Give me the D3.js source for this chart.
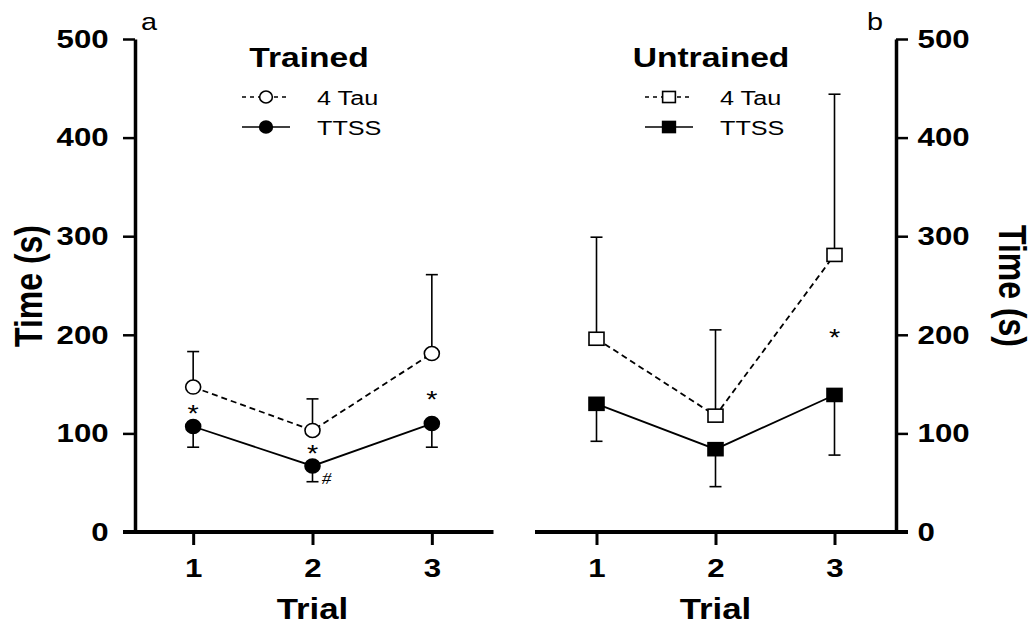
<!DOCTYPE html>
<html>
<head>
<meta charset="utf-8">
<script src="https://cdn.jsdelivr.net/npm/d3@7"></script>
<style>
  body { margin: 0; background: #fff; }
  svg { display: block; font-family: "Liberation Sans", Arial, sans-serif; }
</style>
</head>
<body>
<div class="container"></div>
<script>
// data (time in seconds)
const trials = [1, 2, 3];
const yTicks = [0, 100, 200, 300, 400, 500];

const trainedTau = [147, 103, 181];
const trainedTauSD = [36, 32, 80];      // upper bars
const trainedTTSS = [107, 67, 110];
const trainedTTSSSD = [21, 16, 24];     // lower bars

const untrainedTau = [196, 118, 281];
const untrainedTauSD = [103, 87, 163];
const untrainedTTSS = [130, 84, 139];
const untrainedTTSSSD = [38, 38, 61];

const trainedStars = [[1, 126, "*"], [2, 85, "*"], [3, 140, "*"]];
const trainedHash = [[2, 55, "#"]];
const untrainedStars = [[3, 203, "*"]];

const width = 1033, height = 626;
const SX = 1.2; // source figure is stretched horizontally

const svg = d3.select(".container").append("svg")
  .attr("width", width).attr("height", height)
  .attr("viewBox", [0, 0, width, height]);

const y = d3.scaleLinear().domain([0, 500]).range([532, 39]);

function txt(g, x, yy, s, size, weight, anchor) {
  return g.append("text")
    .attr("transform", `translate(${x},${yy}) scale(${SX},1)`)
    .attr("text-anchor", anchor || "start")
    .attr("font-size", size)
    .attr("font-weight", weight || "normal")
    .text(s);
}

function panel(opt) {
  const g = svg.append("g");
  const x = d3.scaleLinear().domain([0.5, 3.5]).range(opt.xRange);
  const tickLen = 12;

  // y axis
  const yAx = (opt.side === "left" ? d3.axisLeft(y) : d3.axisRight(y))
    .tickValues(yTicks).tickSize(tickLen).tickSizeOuter(0)
    .tickPadding(opt.side === "left" ? 10 : 6);
  const ya = g.append("g").attr("transform", `translate(${opt.yAxisX},0)`).call(yAx);
  ya.select(".domain").attr("stroke-width", 3.5);
  ya.selectAll(".tick line").attr("stroke-width", 2.5);
  ya.selectAll(".tick text")
    .attr("font-size", 26).attr("font-weight", "bold").attr("fill", "#000")
    .attr("font-family", "Liberation Sans, Arial, sans-serif")
    .attr("transform", `scale(${SX},1)`);

  // x axis
  const xAx = d3.axisBottom(x).tickValues(trials).tickSize(13).tickSizeOuter(0)
    .tickPadding(14).tickFormat(d3.format("d"));
  const xa = g.append("g").attr("transform", `translate(0,${y(0)})`).call(xAx);
  xa.select(".domain").remove();
  xa.selectAll(".tick line").attr("stroke-width", 3);
  xa.selectAll(".tick text")
    .attr("font-size", 26).attr("font-weight", "bold").attr("fill", "#000")
    .attr("font-family", "Liberation Sans, Arial, sans-serif")
    .attr("transform", `scale(${SX},1)`);
  const x0 = opt.side === "left" ? opt.yAxisX - tickLen : opt.xRange[0] - 2;
  const x1 = opt.side === "left" ? opt.xRange[1] + 2 : opt.yAxisX + tickLen;
  g.append("line").attr("x1", x0).attr("x2", x1)
    .attr("y1", y(0)).attr("y2", y(0))
    .attr("stroke", "#000").attr("stroke-width", 4);

  // axis titles
  const mid = (opt.xRange[0] + opt.xRange[1]) / 2;
  txt(g, mid, 619, "Trial", 29, "bold", "middle");
  g.append("text")
    .attr("transform", opt.side === "left"
      ? `translate(42,286) scale(${SX},1) rotate(-90)`
      : `translate(999,286) scale(${SX},1) rotate(90)`)
    .attr("text-anchor", "middle").attr("font-size", 32).attr("font-weight", "bold")
    .text("Time (s)");
  txt(g, opt.letterX, 30, opt.letter, 24, "normal", "start");

  // error bars
  const cap = 6;
  function bars(vals, sd, dir) {
    const eg = g.append("g").attr("stroke", "#000").attr("stroke-width", 1.6);
    trials.forEach((t, i) => {
      const end = vals[i] + dir * sd[i];
      eg.append("line").attr("x1", x(t)).attr("x2", x(t))
        .attr("y1", y(vals[i])).attr("y2", y(end));
      eg.append("line").attr("x1", x(t) - cap).attr("x2", x(t) + cap)
        .attr("y1", y(end)).attr("y2", y(end));
    });
  }
  bars(opt.tau, opt.tauSD, 1);
  bars(opt.ttss, opt.ttssSD, -1);

  // lines
  const line = d3.line().x((d, i) => x(trials[i])).y(d => y(d));
  g.append("path").datum(opt.tau).attr("d", line)
    .attr("fill", "none").attr("stroke", "#000").attr("stroke-width", 1.8)
    .attr("stroke-dasharray", "6,4");
  g.append("path").datum(opt.ttss).attr("d", line)
    .attr("fill", "none").attr("stroke", "#000").attr("stroke-width", 1.8);

  // markers
  function marker(sel, cx, cy, filled, small) {
    const k = small ? 0.85 : 1;
    if (opt.shape === "circle") {
      sel.append("ellipse").attr("cx", cx).attr("cy", cy).attr("rx", 7.5 * k).attr("ry", 7 * k)
        .attr("fill", filled ? "#000" : "#fff").attr("stroke", "#000").attr("stroke-width", 1.6);
    } else {
      sel.append("rect").attr("x", cx - 7.5 * k).attr("y", cy - 6.5 * k)
        .attr("width", 15 * k).attr("height", 13 * k)
        .attr("fill", filled ? "#000" : "#fff").attr("stroke", "#000").attr("stroke-width", 1.6);
    }
  }
  trials.forEach((t, i) => {
    marker(g, x(t), y(opt.tau[i]), false);
    marker(g, x(t), y(opt.ttss[i]), true);
  });

  // significance marks
  opt.stars.forEach(([t, v, s]) => txt(g, x(t), y(v) + 14, s, 24, "normal", "middle"));
  opt.hash.forEach(([t, v, s]) => txt(g, x(t) + 14, y(v) + 6, s, 16, "normal", "middle")
    .attr("font-family", "Liberation Serif, serif").attr("font-style", "italic"));

  // legend
  txt(g, opt.titleX, 67, opt.title, 28, "bold", "middle");
  const L = opt.legendX;
  [[97, false, "4,4", "4 Tau"], [127, true, null, "TTSS"]].forEach(([ly, filled, dash, label]) => {
    g.append("line").attr("x1", L - 24).attr("x2", L + 24).attr("y1", ly).attr("y2", ly)
      .attr("stroke", "#000").attr("stroke-width", 1.6).attr("stroke-dasharray", dash);
    marker(g, L, ly, filled, true);
    txt(g, L + 51, ly + 7.5, label, 21, "normal", "start");
  });
}

panel({
  side: "left", xRange: [133.5, 491.5], yAxisX: 135,
  tau: trainedTau, tauSD: trainedTauSD, ttss: trainedTTSS, ttssSD: trainedTTSSSD,
  stars: trainedStars, hash: trainedHash, shape: "circle",
  title: "Trained", titleX: 309, legendX: 266, letter: "a", letterX: 141
});
panel({
  side: "right", xRange: [537, 894], yAxisX: 896,
  tau: untrainedTau, tauSD: untrainedTauSD, ttss: untrainedTTSS, ttssSD: untrainedTTSSSD,
  stars: untrainedStars, hash: [], shape: "square",
  title: "Untrained", titleX: 711, legendX: 669, letter: "b", letterX: 867
});
</script>
</body>
</html>
